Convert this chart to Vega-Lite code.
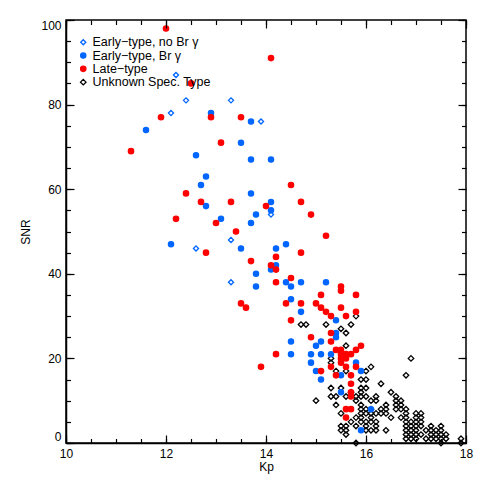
{
 "$schema": "https://vega.github.io/schema/vega-lite/v6.json",
 "width": 400, "height": 423,
 "autosize": {"type": "none"},
 "padding": {"left": 66, "top": 20, "right": 19, "bottom": 42},
 "background": "white",
 "config": {
  "view": {"stroke": "black", "strokeWidth": 1.5},
  "font": "Liberation Sans",
  "axis": {"grid": false, "domainColor": "black", "domainWidth": 1.5, "tickColor": "black", "tickWidth": 1.2, "labelColor": "black", "titleColor": "black", "labelFontSize": 12, "titleFontSize": 12, "titleFontWeight": "normal", "labelFont": "Liberation Sans", "titleFont": "Liberation Sans", "labelOverlap": false}
 },
 "data": {"values": [
  {"Kp":15.8,"SNR":30,"type":"Unknown Spec. Type"},
  {"Kp":14.7,"SNR":28,"type":"Unknown Spec. Type"},{"Kp":14.8,"SNR":28,"type":"Unknown Spec. Type"},{"Kp":15.2,"SNR":28,"type":"Unknown Spec. Type"},{"Kp":15.7,"SNR":28,"type":"Unknown Spec. Type"},
  {"Kp":15.5,"SNR":27,"type":"Unknown Spec. Type"},{"Kp":15.6,"SNR":26,"type":"Unknown Spec. Type"},{"Kp":15.6,"SNR":23,"type":"Unknown Spec. Type"},
  {"Kp":15.3,"SNR":20,"type":"Unknown Spec. Type"},{"Kp":16.9,"SNR":20,"type":"Unknown Spec. Type"},{"Kp":15.3,"SNR":19,"type":"Unknown Spec. Type"},{"Kp":16.1,"SNR":18,"type":"Unknown Spec. Type"},
  {"Kp":15.4,"SNR":17,"type":"Unknown Spec. Type"},{"Kp":15.6,"SNR":17,"type":"Unknown Spec. Type"},{"Kp":16.0,"SNR":17,"type":"Unknown Spec. Type"},
  {"Kp":16.8,"SNR":16,"type":"Unknown Spec. Type"},{"Kp":15.9,"SNR":15,"type":"Unknown Spec. Type"},{"Kp":16.0,"SNR":15,"type":"Unknown Spec. Type"},{"Kp":16.3,"SNR":14,"type":"Unknown Spec. Type"},
  {"Kp":15.3,"SNR":13,"type":"Unknown Spec. Type"},{"Kp":15.5,"SNR":13,"type":"Unknown Spec. Type"},{"Kp":15.9,"SNR":13,"type":"Unknown Spec. Type"},{"Kp":16.0,"SNR":13,"type":"Unknown Spec. Type"},
  {"Kp":15.7,"SNR":12,"type":"Unknown Spec. Type"},{"Kp":15.9,"SNR":12,"type":"Unknown Spec. Type"},{"Kp":16.5,"SNR":12,"type":"Unknown Spec. Type"},
  {"Kp":15.3,"SNR":11,"type":"Unknown Spec. Type"},{"Kp":15.4,"SNR":11,"type":"Unknown Spec. Type"},{"Kp":15.6,"SNR":11,"type":"Unknown Spec. Type"},{"Kp":15.8,"SNR":11,"type":"Unknown Spec. Type"},{"Kp":15.9,"SNR":11,"type":"Unknown Spec. Type"},{"Kp":16.0,"SNR":11,"type":"Unknown Spec. Type"},{"Kp":16.2,"SNR":11,"type":"Unknown Spec. Type"},{"Kp":16.6,"SNR":11,"type":"Unknown Spec. Type"},
  {"Kp":15.0,"SNR":10,"type":"Unknown Spec. Type"},{"Kp":15.8,"SNR":10,"type":"Unknown Spec. Type"},{"Kp":16.1,"SNR":10,"type":"Unknown Spec. Type"},{"Kp":16.2,"SNR":10,"type":"Unknown Spec. Type"},{"Kp":16.6,"SNR":10,"type":"Unknown Spec. Type"},{"Kp":16.7,"SNR":10,"type":"Unknown Spec. Type"},
  {"Kp":15.4,"SNR":9,"type":"Unknown Spec. Type"},{"Kp":15.9,"SNR":9,"type":"Unknown Spec. Type"},{"Kp":16.4,"SNR":9,"type":"Unknown Spec. Type"},{"Kp":16.6,"SNR":9,"type":"Unknown Spec. Type"},{"Kp":16.7,"SNR":9,"type":"Unknown Spec. Type"},
  {"Kp":15.9,"SNR":8,"type":"Unknown Spec. Type"},{"Kp":16.0,"SNR":8,"type":"Unknown Spec. Type"},{"Kp":16.1,"SNR":8,"type":"Unknown Spec. Type"},{"Kp":16.3,"SNR":8,"type":"Unknown Spec. Type"},{"Kp":16.4,"SNR":8,"type":"Unknown Spec. Type"},{"Kp":16.6,"SNR":8,"type":"Unknown Spec. Type"},{"Kp":16.7,"SNR":8,"type":"Unknown Spec. Type"},{"Kp":16.8,"SNR":8,"type":"Unknown Spec. Type"},
  {"Kp":15.5,"SNR":7,"type":"Unknown Spec. Type"},{"Kp":15.9,"SNR":7,"type":"Unknown Spec. Type"},{"Kp":16.0,"SNR":7,"type":"Unknown Spec. Type"},{"Kp":16.1,"SNR":7,"type":"Unknown Spec. Type"},{"Kp":16.2,"SNR":7,"type":"Unknown Spec. Type"},{"Kp":16.3,"SNR":7,"type":"Unknown Spec. Type"},{"Kp":16.4,"SNR":7,"type":"Unknown Spec. Type"},{"Kp":16.8,"SNR":7,"type":"Unknown Spec. Type"},{"Kp":17.0,"SNR":7,"type":"Unknown Spec. Type"},{"Kp":17.1,"SNR":7,"type":"Unknown Spec. Type"},
  {"Kp":15.8,"SNR":6,"type":"Unknown Spec. Type"},{"Kp":15.9,"SNR":6,"type":"Unknown Spec. Type"},{"Kp":16.1,"SNR":6,"type":"Unknown Spec. Type"},{"Kp":16.5,"SNR":6,"type":"Unknown Spec. Type"},{"Kp":16.7,"SNR":6,"type":"Unknown Spec. Type"},{"Kp":16.8,"SNR":6,"type":"Unknown Spec. Type"},{"Kp":17.0,"SNR":6,"type":"Unknown Spec. Type"},{"Kp":17.1,"SNR":6,"type":"Unknown Spec. Type"},
  {"Kp":15.7,"SNR":5,"type":"Unknown Spec. Type"},{"Kp":15.9,"SNR":5,"type":"Unknown Spec. Type"},{"Kp":16.0,"SNR":5,"type":"Unknown Spec. Type"},{"Kp":16.1,"SNR":5,"type":"Unknown Spec. Type"},{"Kp":16.2,"SNR":5,"type":"Unknown Spec. Type"},{"Kp":16.8,"SNR":5,"type":"Unknown Spec. Type"},{"Kp":16.9,"SNR":5,"type":"Unknown Spec. Type"},{"Kp":17.0,"SNR":5,"type":"Unknown Spec. Type"},{"Kp":17.1,"SNR":5,"type":"Unknown Spec. Type"},
  {"Kp":15.5,"SNR":4,"type":"Unknown Spec. Type"},{"Kp":15.6,"SNR":4,"type":"Unknown Spec. Type"},{"Kp":15.8,"SNR":4,"type":"Unknown Spec. Type"},{"Kp":16.0,"SNR":4,"type":"Unknown Spec. Type"},{"Kp":16.2,"SNR":4,"type":"Unknown Spec. Type"},{"Kp":16.8,"SNR":4,"type":"Unknown Spec. Type"},{"Kp":16.9,"SNR":4,"type":"Unknown Spec. Type"},{"Kp":17.0,"SNR":4,"type":"Unknown Spec. Type"},{"Kp":17.1,"SNR":4,"type":"Unknown Spec. Type"},{"Kp":17.3,"SNR":4,"type":"Unknown Spec. Type"},{"Kp":17.5,"SNR":4,"type":"Unknown Spec. Type"},
  {"Kp":15.5,"SNR":3,"type":"Unknown Spec. Type"},{"Kp":15.6,"SNR":3,"type":"Unknown Spec. Type"},{"Kp":16.0,"SNR":3,"type":"Unknown Spec. Type"},{"Kp":16.1,"SNR":3,"type":"Unknown Spec. Type"},{"Kp":16.2,"SNR":3,"type":"Unknown Spec. Type"},{"Kp":16.4,"SNR":3,"type":"Unknown Spec. Type"},{"Kp":16.8,"SNR":3,"type":"Unknown Spec. Type"},{"Kp":16.9,"SNR":3,"type":"Unknown Spec. Type"},{"Kp":17.0,"SNR":3,"type":"Unknown Spec. Type"},{"Kp":17.2,"SNR":3,"type":"Unknown Spec. Type"},{"Kp":17.3,"SNR":3,"type":"Unknown Spec. Type"},{"Kp":17.4,"SNR":3,"type":"Unknown Spec. Type"},{"Kp":17.5,"SNR":3,"type":"Unknown Spec. Type"},
  {"Kp":15.6,"SNR":2,"type":"Unknown Spec. Type"},{"Kp":16.8,"SNR":2,"type":"Unknown Spec. Type"},{"Kp":16.9,"SNR":2,"type":"Unknown Spec. Type"},{"Kp":17.0,"SNR":2,"type":"Unknown Spec. Type"},{"Kp":17.1,"SNR":2,"type":"Unknown Spec. Type"},{"Kp":17.3,"SNR":2,"type":"Unknown Spec. Type"},{"Kp":17.4,"SNR":2,"type":"Unknown Spec. Type"},{"Kp":17.5,"SNR":2,"type":"Unknown Spec. Type"},{"Kp":17.6,"SNR":2,"type":"Unknown Spec. Type"},
  {"Kp":16.8,"SNR":1,"type":"Unknown Spec. Type"},{"Kp":16.9,"SNR":1,"type":"Unknown Spec. Type"},{"Kp":17.0,"SNR":1,"type":"Unknown Spec. Type"},{"Kp":17.2,"SNR":1,"type":"Unknown Spec. Type"},{"Kp":17.3,"SNR":1,"type":"Unknown Spec. Type"},{"Kp":17.4,"SNR":1,"type":"Unknown Spec. Type"},{"Kp":17.5,"SNR":1,"type":"Unknown Spec. Type"},{"Kp":17.6,"SNR":1,"type":"Unknown Spec. Type"},{"Kp":17.9,"SNR":1,"type":"Unknown Spec. Type"},
  {"Kp":15.8,"SNR":0,"type":"Unknown Spec. Type"},{"Kp":17.5,"SNR":0,"type":"Unknown Spec. Type"},{"Kp":17.9,"SNR":0,"type":"Unknown Spec. Type"},
  {"Kp":12.2,"SNR":87,"type":"Early−type, no Br γ"},{"Kp":12.4,"SNR":81,"type":"Early−type, no Br γ"},{"Kp":13.3,"SNR":81,"type":"Early−type, no Br γ"},{"Kp":12.1,"SNR":78,"type":"Early−type, no Br γ"},{"Kp":13.9,"SNR":76,"type":"Early−type, no Br γ"},{"Kp":14.1,"SNR":54,"type":"Early−type, no Br γ"},{"Kp":13.3,"SNR":48,"type":"Early−type, no Br γ"},{"Kp":12.6,"SNR":46,"type":"Early−type, no Br γ"},{"Kp":13.3,"SNR":38,"type":"Early−type, no Br γ"},
  {"Kp":12.9,"SNR":78,"type":"Early−type, Br γ"},{"Kp":13.7,"SNR":76,"type":"Early−type, Br γ"},{"Kp":11.6,"SNR":74,"type":"Early−type, Br γ"},{"Kp":13.5,"SNR":71,"type":"Early−type, Br γ"},{"Kp":12.6,"SNR":68,"type":"Early−type, Br γ"},{"Kp":13.7,"SNR":67,"type":"Early−type, Br γ"},{"Kp":14.1,"SNR":67,"type":"Early−type, Br γ"},{"Kp":12.8,"SNR":63,"type":"Early−type, Br γ"},{"Kp":12.7,"SNR":61,"type":"Early−type, Br γ"},{"Kp":13.7,"SNR":59,"type":"Early−type, Br γ"},{"Kp":12.8,"SNR":56,"type":"Early−type, Br γ"},{"Kp":14.1,"SNR":57,"type":"Early−type, Br γ"},{"Kp":14.1,"SNR":55,"type":"Early−type, Br γ"},{"Kp":13.1,"SNR":53,"type":"Early−type, Br γ"},{"Kp":13.8,"SNR":54,"type":"Early−type, Br γ"},{"Kp":13.7,"SNR":52,"type":"Early−type, Br γ"},{"Kp":12.1,"SNR":47,"type":"Early−type, Br γ"},{"Kp":13.5,"SNR":46,"type":"Early−type, Br γ"},{"Kp":14.1,"SNR":41,"type":"Early−type, Br γ"},{"Kp":14.2,"SNR":42,"type":"Early−type, Br γ"},{"Kp":13.8,"SNR":40,"type":"Early−type, Br γ"},{"Kp":13.8,"SNR":37,"type":"Early−type, Br γ"},{"Kp":14.4,"SNR":47,"type":"Early−type, Br γ"},{"Kp":14.2,"SNR":46,"type":"Early−type, Br γ"},{"Kp":14.4,"SNR":38,"type":"Early−type, Br γ"},{"Kp":14.5,"SNR":37,"type":"Early−type, Br γ"},{"Kp":14.7,"SNR":38,"type":"Early−type, Br γ"},{"Kp":15.2,"SNR":38,"type":"Early−type, Br γ"},{"Kp":14.5,"SNR":34,"type":"Early−type, Br γ"},{"Kp":14.7,"SNR":31,"type":"Early−type, Br γ"},{"Kp":15.4,"SNR":29,"type":"Early−type, Br γ"},{"Kp":15.4,"SNR":26,"type":"Early−type, Br γ"},{"Kp":15.4,"SNR":25,"type":"Early−type, Br γ"},{"Kp":14.5,"SNR":24,"type":"Early−type, Br γ"},{"Kp":15.1,"SNR":24,"type":"Early−type, Br γ"},{"Kp":15.0,"SNR":23,"type":"Early−type, Br γ"},{"Kp":14.5,"SNR":21,"type":"Early−type, Br γ"},{"Kp":14.9,"SNR":21,"type":"Early−type, Br γ"},{"Kp":15.1,"SNR":21,"type":"Early−type, Br γ"},{"Kp":15.3,"SNR":21,"type":"Early−type, Br γ"},{"Kp":14.9,"SNR":19,"type":"Early−type, Br γ"},{"Kp":15.8,"SNR":19,"type":"Early−type, Br γ"},{"Kp":15.0,"SNR":17,"type":"Early−type, Br γ"},{"Kp":15.5,"SNR":16,"type":"Early−type, Br γ"},{"Kp":15.1,"SNR":15,"type":"Early−type, Br γ"},{"Kp":15.9,"SNR":17,"type":"Early−type, Br γ"},{"Kp":15.5,"SNR":12,"type":"Early−type, Br γ"},{"Kp":16.1,"SNR":8,"type":"Early−type, Br γ"},{"Kp":15.9,"SNR":3,"type":"Early−type, Br γ"},
  {"Kp":12.0,"SNR":98,"type":"Late−type"},{"Kp":12.5,"SNR":85,"type":"Late−type"},{"Kp":11.9,"SNR":77,"type":"Late−type"},{"Kp":12.9,"SNR":77,"type":"Late−type"},{"Kp":13.5,"SNR":77,"type":"Late−type"},{"Kp":14.1,"SNR":91,"type":"Late−type"},{"Kp":11.3,"SNR":69,"type":"Late−type"},{"Kp":13.1,"SNR":71,"type":"Late−type"},{"Kp":12.4,"SNR":59,"type":"Late−type"},{"Kp":12.7,"SNR":57,"type":"Late−type"},{"Kp":13.3,"SNR":57,"type":"Late−type"},{"Kp":14.0,"SNR":56,"type":"Late−type"},{"Kp":12.2,"SNR":53,"type":"Late−type"},{"Kp":13.0,"SNR":52,"type":"Late−type"},{"Kp":13.4,"SNR":50,"type":"Late−type"},{"Kp":12.8,"SNR":45,"type":"Late−type"},{"Kp":13.7,"SNR":43,"type":"Late−type"},{"Kp":14.1,"SNR":42,"type":"Late−type"},{"Kp":14.2,"SNR":41,"type":"Late−type"},{"Kp":13.5,"SNR":33,"type":"Late−type"},{"Kp":13.6,"SNR":32,"type":"Late−type"},{"Kp":13.9,"SNR":18,"type":"Late−type"},{"Kp":14.5,"SNR":61,"type":"Late−type"},{"Kp":14.7,"SNR":57,"type":"Late−type"},{"Kp":14.9,"SNR":54,"type":"Late−type"},{"Kp":15.2,"SNR":49,"type":"Late−type"},{"Kp":14.2,"SNR":44,"type":"Late−type"},{"Kp":14.7,"SNR":45,"type":"Late−type"},{"Kp":14.2,"SNR":38,"type":"Late−type"},{"Kp":14.5,"SNR":39,"type":"Late−type"},{"Kp":15.5,"SNR":37,"type":"Late−type"},{"Kp":15.5,"SNR":36,"type":"Late−type"},{"Kp":15.1,"SNR":35,"type":"Late−type"},{"Kp":15.8,"SNR":35,"type":"Late−type"},{"Kp":14.4,"SNR":33,"type":"Late−type"},{"Kp":14.7,"SNR":33,"type":"Late−type"},{"Kp":15.0,"SNR":33,"type":"Late−type"},{"Kp":15.1,"SNR":32,"type":"Late−type"},{"Kp":15.2,"SNR":31,"type":"Late−type"},{"Kp":15.3,"SNR":30,"type":"Late−type"},{"Kp":15.5,"SNR":32,"type":"Late−type"},{"Kp":15.6,"SNR":30,"type":"Late−type"},{"Kp":15.8,"SNR":31,"type":"Late−type"},{"Kp":14.5,"SNR":29,"type":"Late−type"},{"Kp":15.3,"SNR":26,"type":"Late−type"},{"Kp":14.9,"SNR":25,"type":"Late−type"},{"Kp":15.3,"SNR":24,"type":"Late−type"},{"Kp":15.9,"SNR":23,"type":"Late−type"},{"Kp":14.2,"SNR":21,"type":"Late−type"},{"Kp":15.4,"SNR":22,"type":"Late−type"},{"Kp":15.5,"SNR":22,"type":"Late−type"},{"Kp":15.8,"SNR":22,"type":"Late−type"},{"Kp":15.7,"SNR":21,"type":"Late−type"},{"Kp":15.5,"SNR":21,"type":"Late−type"},{"Kp":15.6,"SNR":21,"type":"Late−type"},{"Kp":15.5,"SNR":20,"type":"Late−type"},{"Kp":15.6,"SNR":20,"type":"Late−type"},{"Kp":15.5,"SNR":19,"type":"Late−type"},{"Kp":15.6,"SNR":18,"type":"Late−type"},{"Kp":15.8,"SNR":18,"type":"Late−type"},{"Kp":15.3,"SNR":18,"type":"Late−type"},{"Kp":15.1,"SNR":17,"type":"Late−type"},{"Kp":15.4,"SNR":16,"type":"Late−type"},{"Kp":15.7,"SNR":16,"type":"Late−type"},{"Kp":15.7,"SNR":14,"type":"Late−type"},{"Kp":15.7,"SNR":12,"type":"Late−type"},{"Kp":15.7,"SNR":11,"type":"Late−type"},{"Kp":15.6,"SNR":8,"type":"Late−type"},{"Kp":15.7,"SNR":8,"type":"Late−type"},{"Kp":15.6,"SNR":6,"type":"Late−type"}
 ]},
 "layer": [
  {
   "mark": {"type": "point", "opacity": 1, "strokeWidth": 1.3},
   "encoding": {
    "x": {"field": "Kp", "type": "quantitative", "scale": {"domain": [10, 18], "nice": false, "zero": false},
     "axis": {"orient": "bottom", "title": "Kp", "tickCount": 4, "format": "d", "labelFlush": false, "ticks": false, "tickSize": 0, "labelPadding": 5, "titlePadding": 2}},
    "y": {"field": "SNR", "type": "quantitative", "scale": {"domain": [0, 100], "nice": false, "zero": false},
     "axis": {"orient": "left", "title": "SNR", "tickCount": 5, "format": "d", "labelFlush": true, "labelFlushOffset": 0, "ticks": false, "tickSize": 0, "labelPadding": 5, "titlePadding": 8}},
    "shape": {"field": "type", "type": "nominal", "scale": {"domain": ["Early−type, no Br γ", "Early−type, Br γ", "Late−type", "Unknown Spec. Type"], "range": ["diamond", "circle", "circle", "diamond"]},
     "legend": {"title": null, "orient": "none", "legendX": 11, "legendY": 16, "labelFontSize": 12.5, "labelFont": "Liberation Sans", "labelColor": "black", "labelOffset": 3, "rowPadding": 0.3, "padding": 0, "symbolStrokeWidth": 1.3}},
    "fill": {"field": "type", "type": "nominal", "scale": {"domain": ["Early−type, no Br γ", "Early−type, Br γ", "Late−type", "Unknown Spec. Type"], "range": ["transparent", "#0066ff", "#ff0000", "transparent"]}, "legend": {"title": null}},
    "stroke": {"field": "type", "type": "nominal", "scale": {"domain": ["Early−type, no Br γ", "Early−type, Br γ", "Late−type", "Unknown Spec. Type"], "range": ["#0066ff", "#0066ff", "#ff0000", "#000000"]}, "legend": {"title": null}},
    "size": {"field": "type", "type": "nominal", "scale": {"domain": ["Early−type, no Br γ", "Early−type, Br γ", "Late−type", "Unknown Spec. Type"], "range": [26, 30, 30, 24]}, "legend": {"title": null}}
   }
  },
  {
   "mark": {"type": "point", "opacity": 0},
   "encoding": {
    "x": {"field": "Kp", "type": "quantitative", "axis": {"orient": "bottom", "title": null, "labels": false, "domain": false, "zindex": 1, "offset": -8, "tickSize": 8, "tickCount": 4}},
    "y": {"field": "SNR", "type": "quantitative", "axis": {"orient": "left", "title": null, "labels": false, "domain": false, "zindex": 1, "offset": -8, "tickSize": 8, "tickCount": 5}}
   }
  },
  {
   "mark": {"type": "point", "opacity": 0},
   "encoding": {
    "x": {"field": "Kp", "type": "quantitative", "axis": {"orient": "top", "title": null, "labels": false, "domain": false, "zindex": 1, "offset": -8, "tickSize": 8, "tickCount": 4}},
    "y": {"field": "SNR", "type": "quantitative", "axis": {"orient": "right", "title": null, "labels": false, "domain": false, "zindex": 1, "offset": -8, "tickSize": 8, "tickCount": 5}}
   }
  },
  {
   "mark": {"type": "point", "opacity": 0},
   "encoding": {
    "x": {"field": "Kp", "type": "quantitative", "axis": {"orient": "bottom", "title": null, "labels": false, "domain": false, "zindex": 1, "offset": -4.5, "tickSize": 4.5, "tickCount": 16}},
    "y": {"field": "SNR", "type": "quantitative", "axis": {"orient": "left", "title": null, "labels": false, "domain": false, "zindex": 1, "offset": -4.5, "tickSize": 4.5, "tickCount": 20}}
   }
  },
  {
   "mark": {"type": "point", "opacity": 0},
   "encoding": {
    "x": {"field": "Kp", "type": "quantitative", "axis": {"orient": "top", "title": null, "labels": false, "domain": false, "zindex": 1, "offset": -4.5, "tickSize": 4.5, "tickCount": 16}},
    "y": {"field": "SNR", "type": "quantitative", "axis": {"orient": "right", "title": null, "labels": false, "domain": false, "zindex": 1, "offset": -4.5, "tickSize": 4.5, "tickCount": 20}}
   }
  }
 ],
 "resolve": {"axis": {"x": "independent", "y": "independent"}}
}
